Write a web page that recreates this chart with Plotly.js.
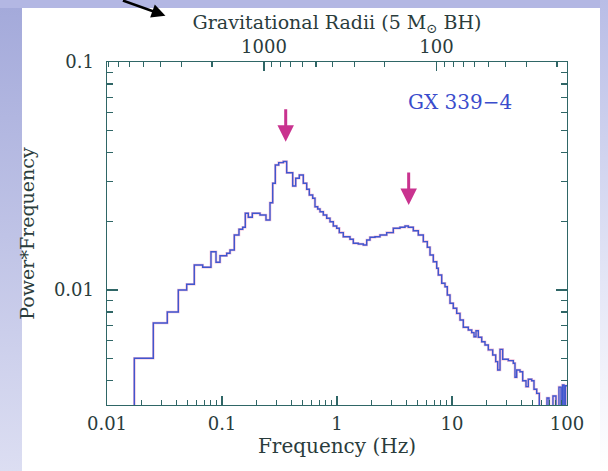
<!DOCTYPE html>
<html>
<head>
<meta charset="utf-8">
<script src="https://cdn.plot.ly/plotly-3.0.1.min.js"></script>
<style>
  html, body { margin: 0; padding: 0; background: #ffffff; }
  #wrap { position: relative; width: 608px; height: 471px; overflow: hidden; background: #ffffff; }
  #leftStrip { position: absolute; left: 0; top: 0; width: 22px; height: 471px;
    background: linear-gradient(to bottom, #a3a9da 0%, #bfc3e6 50%, #dcdef2 100%); }
  #topStrip { position: absolute; left: 0; top: 0; width: 608px; height: 8px; background: #b3b7e3; }
  #rightStrip { position: absolute; right: 0; top: 0; width: 8px; height: 471px;
    background: linear-gradient(to bottom, #b9bde6 0%, #e4e6f6 60%, #ffffff 100%); }
  #chart { position: absolute; left: 0; top: 0; width: 608px; height: 471px; }
</style>
</head>
<body>
<div id="wrap">
  <div id="leftStrip"></div>
  <div id="topStrip"></div>
  <div id="rightStrip"></div>
  <div id="chart"></div>
</div>
<script>
// ---- data (GX 339-4 power spectrum, Power*Frequency) ----
// left edges of the frequency bins (Hz); last entry is the right edge of the final bin
var binEdgesHz = [0.01728, 0.02527, 0.03344, 0.04169, 0.04932, 0.05741, 0.06797, 0.0802, 0.0887, 0.0961,
  0.1099, 0.1174, 0.1279, 0.1405, 0.1514, 0.1594, 0.1693, 0.1835, 0.2140, 0.2413,
  0.2615, 0.2760, 0.2907, 0.3112, 0.3412, 0.3652, 0.4119, 0.4375, 0.4701, 0.5093,
  0.5452, 0.5743, 0.6146, 0.6436, 0.6797, 0.7117, 0.7601, 0.8136, 0.8692, 0.9286,
  0.994, 1.047, 1.134, 1.297, 1.386, 1.532, 1.693, 1.813, 1.936, 2.140,
  2.365, 2.705, 3.087, 3.530, 3.902, 4.169, 4.608, 5.093, 5.630, 6.098,
  6.437, 6.877, 7.362, 7.601, 8.136, 8.692, 9.101, 9.607, 10.26, 10.99,
  11.74, 12.54, 13.86, 14.84, 15.54, 16.17, 16.93, 18.13, 19.36, 20.69,
  22.59, 23.99, 24.97, 26.15, 27.60, 30.87, 34.12, 35.30, 36.52, 39.02,
  41.19, 44.00, 46.08, 49.32, 51.64, 54.52, 57.43, 66.99, 69.74, 75.5,
  80.2, 85.1, 88.7, 91.4, 94.2, 97.0, 100];
// Power*Frequency in each bin (values below 0.0031 fall under the plotted range)
var powerTimesFreq = [0.00502, 0.00717, 0.00801, 0.0100, 0.01059, 0.01287, 0.01258, 0.01472, 0.01323, 0.01414,
  0.01449, 0.01498, 0.01742, 0.01846, 0.01884, 0.02170, 0.02084, 0.02170, 0.02133, 0.02028,
  0.02415, 0.02938, 0.03534, 0.03618, 0.0366, 0.03269, 0.02857, 0.03090, 0.03194, 0.02938,
  0.02764, 0.02610, 0.02524, 0.02319, 0.02266, 0.02205, 0.02133, 0.02063, 0.01993, 0.01909,
  0.01865, 0.01784, 0.01713, 0.01669, 0.01603, 0.01592, 0.01576, 0.01657, 0.01703, 0.01713,
  0.01742, 0.01784, 0.01865, 0.01884, 0.01909, 0.01884, 0.01820, 0.01742, 0.01629, 0.01540,
  0.01424, 0.01331, 0.01245, 0.01164, 0.01070, 0.01034, 0.00951, 0.00874, 0.00831, 0.00790,
  0.00738, 0.00686, 0.00668, 0.00650, 0.00624, 0.00663, 0.00620, 0.00593, 0.00574, 0.00546,
  0.00519, 0.00485, 0.00446, 0.00549, 0.00497, 0.00490, 0.00477, 0.00414, 0.00446, 0.00438,
  0.00400, 0.00377, 0.00406, 0.00400, 0.00367, 0.00352, 0.0028, 0.00336, 0.0028, 0.00343,
  0.0028, 0.00375, 0.0028, 0.00383, 0.0028, 0.00380];
var floorPower = 0.0028;          // level the first bin rises from (below the axis)

// QPO arrows: frequency of each marked peak and the power where each arrow tip sits
var qpoFreqHz = [0.358, 4.20];
var qpoArrowTip = [0.0447, 0.0236];

// axis ticks
var xMajorTicks = [0.01, 0.1, 1, 10, 100];
var xMajorLabels = ["0.01", "0.1", "1", "10", "100"];
var xMinorTicks = [0.02,0.03,0.04,0.05,0.06,0.07,0.08,0.09, 0.2,0.3,0.4,0.5,0.6,0.7,0.8,0.9,
  2,3,4,5,6,7,8,9, 20,30,40,50,60,70,80,90];
var yMajorTicks = [0.01, 0.1];
var yMajorLabels = ["0.01", "0.1"];
var yMinorTicks = [0.004,0.005,0.006,0.007,0.008,0.009, 0.02,0.03,0.04,0.05,0.06,0.07,0.08,0.09];
var rgMajorTicks = [1000, 100];
var rgMajorLabels = ["1000", "100"];
var rgMinorTicks = [8000,7000,6000,5000,4000,3000,2000, 900,800,700,600,500,400,300,200, 90,80,70,60,50,40,30,20];
// Keplerian frequency at R gravitational radii: f = kepConst * R^-1.5 (5 Msun BH)
var kepConst = 7330;

var freqRange = [0.01, 100];
var powerRange = [0.00313, 0.1];

// ---- build step trace ----
var xs = [binEdgesHz[0]];
var ys = [floorPower];
for (var i = 0; i < powerTimesFreq.length; i++) { xs.push(binEdgesHz[i]); ys.push(powerTimesFreq[i]); }
xs.push(binEdgesHz[binEdgesHz.length - 1]); ys.push(powerTimesFreq[powerTimesFreq.length - 1]);

var rgAt = function (f) { return Math.pow(kepConst / f, 2 / 3); };
var rgRange = [Math.log10(rgAt(freqRange[0])), Math.log10(rgAt(freqRange[1]))];

var axisColor = "#2f6666";
var textColor = "#2a3c3c";
var fontFam = "DejaVu Serif, Liberation Serif, serif";

var traces = [
  { x: xs, y: ys, type: "scatter", mode: "lines", line: { shape: "hv", color: "#e68ab8", width: 2.6 },
    opacity: 0.55, hoverinfo: "skip", showlegend: false },
  { x: xs, y: ys, type: "scatter", mode: "lines", line: { shape: "hv", color: "#3f57cf", width: 1.4 },
    showlegend: false },
  { x: [rgAt(freqRange[0]), rgAt(freqRange[1])], y: [null, null], xaxis: "x2", yaxis: "y",
    type: "scatter", mode: "lines", showlegend: false, hoverinfo: "skip" }
];

var annotations = [
  { xref: "paper", yref: "paper", x: 0.127, y: 1.135, ax: -44, ay: -22, axref: "pixel", ayref: "pixel",
    showarrow: true, arrowhead: 2, arrowsize: 1.1, arrowwidth: 2.5, arrowcolor: "#000000", text: "" },
  { xref: "paper", yref: "paper", x: 0.768, y: 0.883, xanchor: "center", yanchor: "middle",
    text: "GX 339\u22124", showarrow: false, font: { family: fontFam, size: 20, color: "#3a4ccc" } }
];
for (var k = 0; k < qpoFreqHz.length; k++) {
  annotations.push({ xref: "x", yref: "y", x: Math.log10(qpoFreqHz[k]), y: Math.log10(qpoArrowTip[k]),
    ax: 0, ay: -34, showarrow: true, arrowhead: 2, arrowsize: 1.1, arrowwidth: 3,
    arrowcolor: "#c9338f", text: "" });
}

var layout = {
  width: 608, height: 471,
  margin: { l: 107, r: 41, t: 62, b: 66, pad: 0 },
  paper_bgcolor: "rgba(0,0,0,0)",
  plot_bgcolor: "#ffffff",
  font: { family: fontFam, size: 18, color: textColor },
  showlegend: false,
  xaxis: {
    type: "log", range: [Math.log10(freqRange[0]), Math.log10(freqRange[1])],
    tickmode: "array", tickvals: xMajorTicks, ticktext: xMajorLabels,
    ticks: "inside", ticklen: 9, tickwidth: 1.2, tickcolor: axisColor,
    minor: { tickmode: "array", tickvals: xMinorTicks, ticks: "inside", ticklen: 5, tickwidth: 1.2, tickcolor: axisColor, showgrid: false },
    showline: true, linecolor: axisColor, linewidth: 1.4, mirror: false,
    showgrid: false, zeroline: false, ticklabelstandoff: 2,
    tickfont: { family: fontFam, size: 18, color: textColor },
    title: { text: "Frequency (Hz)", font: { family: fontFam, size: 20, color: textColor }, standoff: 4 }
  },
  xaxis2: {
    type: "log", overlaying: "x", side: "top", range: rgRange,
    tickmode: "array", tickvals: rgMajorTicks, ticktext: rgMajorLabels,
    ticks: "inside", ticklen: 9, tickwidth: 1.2, tickcolor: axisColor,
    minor: { tickmode: "array", tickvals: rgMinorTicks, ticks: "inside", ticklen: 5, tickwidth: 1.2, tickcolor: axisColor, showgrid: false },
    showline: true, linecolor: axisColor, linewidth: 1.4,
    showgrid: false, zeroline: false, ticklabelstandoff: 0,
    tickfont: { family: fontFam, size: 18, color: textColor },
    title: { text: "Gravitational Radii (5 M<sub>\u2299</sub> BH)", font: { family: fontFam, size: 19, color: textColor }, standoff: 0 }
  },
  yaxis: {
    type: "log", range: [Math.log10(powerRange[0]), Math.log10(powerRange[1])],
    tickmode: "array", tickvals: yMajorTicks, ticktext: yMajorLabels,
    ticks: "inside", ticklen: 11, tickwidth: 1.2, tickcolor: axisColor,
    minor: { tickmode: "array", tickvals: yMinorTicks, ticks: "inside", ticklen: 6, tickwidth: 1.2, tickcolor: axisColor, showgrid: false },
    showline: true, linecolor: axisColor, linewidth: 1.4, mirror: "ticks",
    showgrid: false, zeroline: false, ticklabelstandoff: 8,
    tickfont: { family: fontFam, size: 18, color: textColor },
    title: { text: "Power*Frequency", font: { family: fontFam, size: 19, color: textColor }, standoff: 14 }
  },
  annotations: annotations
};

Plotly.newPlot("chart", traces, layout, { staticPlot: true, displayModeBar: false });
</script>
</body>
</html>
